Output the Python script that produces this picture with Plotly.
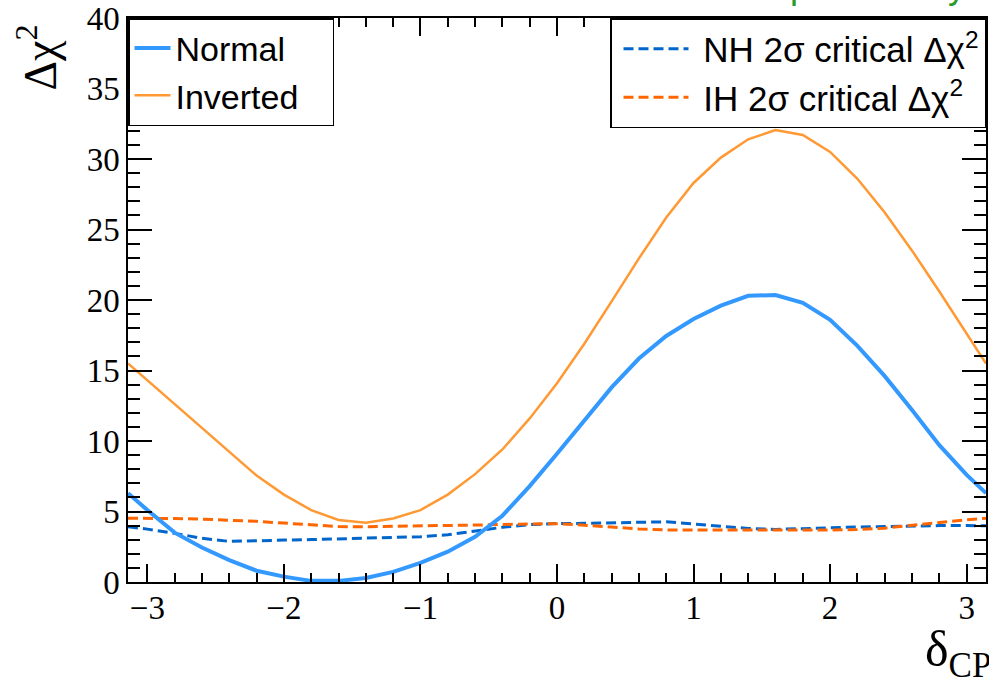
import math
import plotly.graph_objects as go

# delta_CP scan points (radians)
delta_cp = [-3.1416, -3.0, -2.8, -2.6, -2.4, -2.2, -2.0, -1.8, -1.6, -1.4, -1.2,
            -1.0, -0.8, -0.6, -0.4, -0.2, 0.0, 0.2, 0.4, 0.6, 0.8, 1.0,
            1.2, 1.4, 1.6, 1.8, 2.0, 2.2, 2.4, 2.6, 2.8, 3.0, 3.1416]

# Delta chi^2 for each mass ordering
normal = [6.3, 5.1, 3.5, 2.45, 1.55, 0.8, 0.38, 0.08, 0.08, 0.28, 0.72,
          1.35, 2.15, 3.2, 4.7, 6.8, 9.1, 11.5, 13.8, 15.85, 17.45, 18.65,
          19.6, 20.3, 20.35, 19.8, 18.6, 16.75, 14.6, 12.2, 9.7, 7.6, 6.3]
inverted = [15.5, 14.3, 12.6, 10.9, 9.2, 7.55, 6.2, 5.1, 4.4, 4.2, 4.5,
            5.1, 6.2, 7.65, 9.4, 11.6, 14.1, 16.9, 19.9, 22.95, 25.85, 28.3,
            30.1, 31.4, 32.05, 31.7, 30.5, 28.6, 26.2, 23.5, 20.6, 17.6, 15.5]

# 2 sigma critical Delta chi^2 values
nh_crit = [3.92, 3.75, 3.45, 3.1, 2.88, 2.9, 2.97, 3.01, 3.05, 3.1, 3.16,
           3.21, 3.35, 3.6, 3.88, 4.07, 4.15, 4.16, 4.19, 4.25, 4.27, 4.11,
           3.95, 3.8, 3.73, 3.76, 3.84, 3.9, 3.95, 3.99, 4.0, 4.0, 3.99]
ih_crit = [4.52, 4.52, 4.5, 4.46, 4.4, 4.3, 4.18, 4.03, 3.93, 3.92, 3.94,
           3.97, 4.0, 4.04, 4.08, 4.12, 4.14, 4.03, 3.9, 3.76, 3.69, 3.68,
           3.68, 3.68, 3.69, 3.69, 3.69, 3.72, 3.82, 4.02, 4.24, 4.42, 4.52]

x_ticks = [-3, -2, -1, 0, 1, 2, 3]
y_ticks = [0, 5, 10, 15, 20, 25, 30, 35, 40]

NB = "\u00a0"

fig = go.Figure()

fig.add_trace(go.Scatter(x=delta_cp, y=nh_crit, mode="lines",
                         name=NB + "NH 2σ critical Δχ<sup>2</sup>",
                         line=dict(color="#0066cc", width=3, dash="10px,5px"),
                         legend="legend2", legendgroup="nh"))
fig.add_trace(go.Scatter(x=delta_cp, y=ih_crit, mode="lines",
                         name=NB + "IH 2σ critical Δχ<sup>2</sup>",
                         line=dict(color="#ff6600", width=3, dash="10px,5px"),
                         legend="legend2", legendgroup="ih"))
fig.add_trace(go.Scatter(x=delta_cp, y=normal, mode="lines",
                         name="Normal" + NB * 3,
                         line=dict(color="#3399ff", width=4),
                         legend="legend", legendgroup="no"))
fig.add_trace(go.Scatter(x=delta_cp, y=inverted, mode="lines",
                         name="Inverted" + NB * 3,
                         line=dict(color="#ff9933", width=2.5),
                         legend="legend", legendgroup="io"))

sans = "Liberation Sans"
serif = "Liberation Serif"

fig.update_layout(
    width=989, height=679,
    margin=dict(l=128, r=1, t=18, b=97),
    paper_bgcolor="white", plot_bgcolor="white",
    showlegend=True,
    legend=dict(x=0, y=1, xanchor="left", yanchor="top",
                bordercolor="black", borderwidth=1.5, bgcolor="white",
                font=dict(family=sans, size=34, color="black"),
                itemwidth=36, tracegroupgap=12, traceorder="normal"),
    legend2=dict(x=1, y=1, xanchor="right", yanchor="top",
                 bordercolor="black", borderwidth=1.5, bgcolor="white",
                 font=dict(family=sans, size=35, color="black"),
                 itemwidth=65, indentation=7, tracegroupgap=12,
                 traceorder="normal"),
)

fig.update_xaxes(
    range=[-math.pi, math.pi], tickvals=x_ticks,
    ticks="inside", ticklen=18, tickwidth=1.5, tickcolor="black",
    showline=True, linecolor="black", linewidth=1.5, mirror="ticks",
    showgrid=False, zeroline=False,
    minor=dict(ticks="inside", ticklen=9, dtick=0.2, tick0=0,
               tickcolor="black", tickwidth=1.5, showgrid=False),
    tickfont=dict(family=serif, size=33, color="black"),
    ticklabelstandoff=-4,
)
fig.update_yaxes(
    range=[0, 40], tickvals=y_ticks,
    ticks="inside", ticklen=24, tickwidth=1.5, tickcolor="black",
    showline=True, linecolor="black", linewidth=1.5, mirror="ticks",
    showgrid=False, zeroline=False,
    minor=dict(ticks="inside", ticklen=12, dtick=1, tick0=0,
               tickcolor="black", tickwidth=1.5, showgrid=False),
    tickfont=dict(family=serif, size=33, color="black"),
)

# axis titles
fig.add_annotation(text="Δχ<sup>2</sup>", xref="paper", yref="paper",
                   x=-0.106, y=0.93, xanchor="center", yanchor="middle",
                   textangle=-90, showarrow=False,
                   font=dict(family=serif, size=46, color="black"))
fig.add_annotation(text="δ<sub>CP</sub>", xref="paper", yref="paper",
                   x=0.927, y=-0.066, xanchor="left", yanchor="top",
                   showarrow=False,
                   font=dict(family=serif, size=50, color="black"))
# status label above the frame
fig.add_annotation(text="T2K preliminary", xref="paper", yref="paper",
                   x=0.979, y=1.018, xanchor="right", yanchor="bottom",
                   showarrow=False,
                   font=dict(family=sans, size=36, color="#2a9a2a"))

fig.write_html("out.html")
